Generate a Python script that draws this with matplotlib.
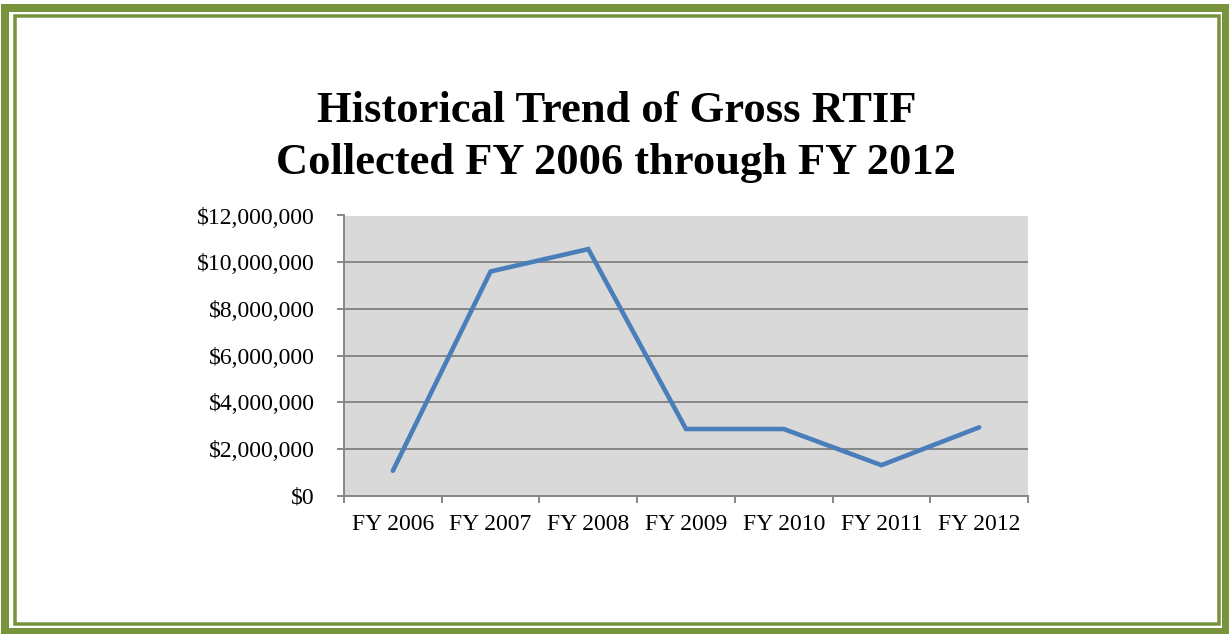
import numpy as np
import matplotlib.pyplot as plt
from matplotlib.patches import Rectangle
from matplotlib.ticker import FuncFormatter

# data
years = ['FY 2006', 'FY 2007', 'FY 2008', 'FY 2009', 'FY 2010', 'FY 2011', 'FY 2012']
rtif = [1060000, 9600000, 10560000, 2850000, 2850000, 1300000, 2920000]
yticks = [0, 2000000, 4000000, 6000000, 8000000, 10000000, 12000000]

W, H = 1229, 634
fig = plt.figure(figsize=(W / 100, H / 100), dpi=100)
fig.patch.set_facecolor('white')

green = '#77933C'
serif = ['Liberation Serif', 'DejaVu Serif']

# double green frame
def frame(x0, y0, x1, y1, lw_px):
    r = Rectangle((x0 / W, 1 - y1 / H), (x1 - x0) / W, (y1 - y0) / H,
                  transform=fig.transFigure, fill=False, edgecolor=green,
                  linewidth=lw_px * 0.72, zorder=10)
    fig.add_artist(r)

frame(4.5, 7.5, 1225.5, 631.5, 8)
frame(14.5, 16, 1218.5, 623.5, 3.5)

# title
fig.text(0.5015, 1 - 111 / H, 'Historical Trend of Gross RTIF', ha='center', va='center',
         fontsize=32, fontweight='bold', family=serif)
fig.text(0.5015, 1 - 163 / H, 'Collected FY 2006 through FY 2012', ha='center', va='center',
         fontsize=32, fontweight='bold', family=serif)

ax = fig.add_axes([344 / W, 1 - 495.5 / H, (1028 - 344) / W, (495.5 - 215.5) / H])
ax.set_facecolor('#D9D9D9')

x = np.arange(len(years)) + 0.5
ax.plot(x, rtif, color='#4A7EBB', linewidth=3.3, solid_joinstyle='miter',
        solid_capstyle='round', zorder=3)

ax.set_xlim(0, len(years))
ax.set_ylim(0, 12000000)
ax.set_yticks(yticks)
ax.yaxis.set_major_formatter(FuncFormatter(lambda v, p: '${:,.0f}'.format(v)))
ax.grid(axis='y', color='#868686', linewidth=1.4, zorder=1)

ax.set_xticks(np.arange(len(years) + 1))
ax.set_xticklabels([])
ax.set_xticks(x, minor=True)
ax.set_xticklabels(years, minor=True)
ax.tick_params(axis='x', which='minor', length=0, pad=13, labelsize=17)
ax.tick_params(axis='x', which='major', length=5, width=1.4, color='#868686')
ax.tick_params(axis='y', length=5, width=1.4, color='#868686', pad=16, labelsize=17)
for lab in ax.get_xticklabels(minor=True) + ax.get_yticklabels():
    lab.set_family(serif)

for s in ['top', 'right']:
    ax.spines[s].set_visible(False)
for s in ['left', 'bottom']:
    ax.spines[s].set_color('#868686')
    ax.spines[s].set_linewidth(1.4)

fig.savefig('out.png', dpi=100)
